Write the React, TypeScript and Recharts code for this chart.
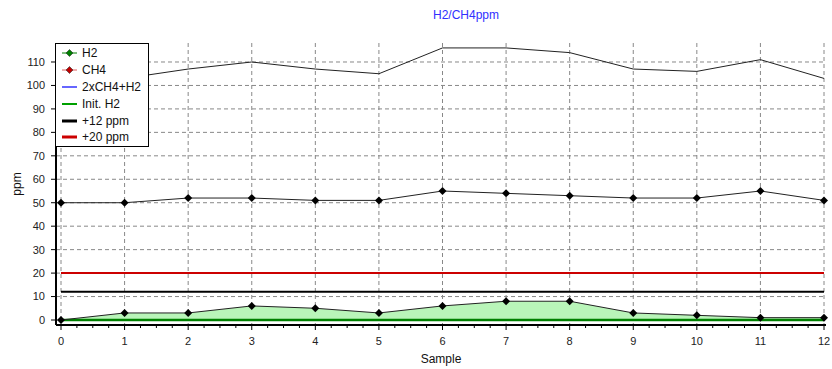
import React from "react";
import {
  Area,
  CartesianGrid,
  ComposedChart,
  Label,
  Legend,
  Line,
  XAxis,
  YAxis,
} from "recharts";

// values
const samples = [0, 1, 2, 3, 4, 5, 6, 7, 8, 9, 10, 11, 12];
const h2 = [0, 3, 3, 6, 5, 3, 6, 8, 8, 3, 2, 1, 1];
const ch4 = [50, 50, 52, 52, 51, 51, 55, 54, 53, 52, 52, 55, 51];
const sumLine = [100, 103, 107, 110, 107, 105, 116, 116, 114, 107, 106, 111, 103];
const initH2 = [0, 0, 0, 0, 0, 0, 0, 0, 0, 0, 0, 0, 0];
const plus12 = [12, 12, 12, 12, 12, 12, 12, 12, 12, 12, 12, 12, 12];
const plus20 = [20, 20, 20, 20, 20, 20, 20, 20, 20, 20, 20, 20, 20];

const yTicks = [0, 10, 20, 30, 40, 50, 60, 70, 80, 90, 100, 110];
const legendNames = ["H2", "CH4", "2xCH4+H2", "Init. H2", "+12 ppm", "+20 ppm"];

const FONT = "'Liberation Sans', Arial, sans-serif";

// legend swatches (line colour, width, marker fill)
const SWATCH: Record<string, { stroke: string; width: number; marker?: string }> = {
  H2: { stroke: "#008000", width: 1, marker: "#008000" },
  CH4: { stroke: "#e06060", width: 1, marker: "#c00000" },
  "2xCH4+H2": { stroke: "#6666ff", width: 2 },
  "Init. H2": { stroke: "#00a000", width: 2 },
  "+12 ppm": { stroke: "#000000", width: 3 },
  "+20 ppm": { stroke: "#cc0000", width: 3 },
};

const data = samples.map((s, i) => ({
  sample: s,
  h2: h2[i],
  ch4: ch4[i],
  sum: sumLine[i],
  init: initH2[i],
  p12: plus12[i],
  p20: plus20[i],
}));

const xTicks = samples.flatMap((t) =>
  t < 12 ? [t, t + 0.25, t + 0.5, t + 0.75] : [t]
);

const Diamond = (props: any) => {
  const { cx, cy, index } = props;
  if (cx == null || cy == null) return <g key={index} />;
  const r = 4;
  return (
    <polygon
      key={index}
      points={`${cx},${cy - r} ${cx + r},${cy} ${cx},${cy + r} ${cx - r},${cy}`}
      fill="#000"
    />
  );
};

const XTick = (props: any) => {
  const { x, y, payload } = props;
  const major = Number.isInteger(payload.value);
  return (
    <g>
      <line x1={x} x2={x} y1={y} y2={y + (major ? 5 : 3)} stroke="#000" />
      {major && (
        <text
          x={x}
          y={y + 20}
          textAnchor="middle"
          fontSize={11}
          fontFamily={FONT}
          fill="#222"
        >
          {payload.value}
        </text>
      )}
    </g>
  );
};

const LegendBox = () => (
  <div
    style={{
      width: 92,
      height: 101,
      border: "1px solid #000",
      background: "#fff",
      fontFamily: FONT,
      fontSize: 12,
      color: "#111",
      paddingTop: 1,
      boxSizing: "content-box",
    }}
  >
    {legendNames.map((name) => {
      const s = SWATCH[name];
      return (
        <div
          key={name}
          style={{ height: 16.8, display: "flex", alignItems: "center" }}
        >
          <svg width={26} height={16} style={{ flex: "none" }}>
            <line
              x1={6}
              x2={21}
              y1={8}
              y2={8}
              stroke={s.stroke}
              strokeWidth={s.width}
            />
            {s.marker && (
              <polygon
                points="13.5,4.5 17,8 13.5,11.5 10,8"
                fill={s.marker}
                stroke="#333"
                strokeWidth={0.6}
              />
            )}
          </svg>
          <span style={{ whiteSpace: "nowrap" }}>{name}</span>
        </div>
      );
    })}
  </div>
);

const App: React.FC = () => {
  return (
    <div
      style={{
        position: "absolute",
        left: 0,
        top: 0,
        width: 832,
        height: 369,
        background: "#fff",
      }}
    >
      <div
        style={{
          position: "absolute",
          left: 0,
          width: 932,
          top: 8,
          textAlign: "center",
          fontFamily: FONT,
          fontSize: 12,
          color: "#3030ff",
          zIndex: 2,
        }}
      >
        H2/CH4ppm
      </div>
      <ComposedChart
        width={832}
        height={369}
        data={data}
        margin={{ top: 43, right: 6, bottom: 0, left: 0 }}
      >
        <CartesianGrid
          stroke="#888"
          strokeDasharray="4 3"
          verticalValues={samples}
          horizontalValues={yTicks}
        />
        <XAxis
          dataKey="sample"
          type="number"
          domain={[0, 12]}
          ticks={xTicks}
          interval={0}
          padding={{ left: 5, right: 2 }}
          height={44}
          tickLine={false}
          tickSize={0}
          tickMargin={0}
          tick={<XTick />}
          axisLine={{ stroke: "#000", strokeWidth: 2 }}
        >
          <Label
            value="Sample"
            position="insideBottom"
            offset={6}
            style={{ fontFamily: FONT, fontSize: 12, fill: "#111" }}
          />
        </XAxis>
        <XAxis
          xAxisId="top"
          orientation="top"
          type="number"
          domain={[0, 12]}
          height={0}
          tick={false}
          tickLine={false}
          axisLine={{ stroke: "#333" }}
        />
        <YAxis
          type="number"
          domain={[-2.13, 118.1]}
          allowDataOverflow
          ticks={yTicks}
          interval={0}
          width={56}
          tickSize={5}
          tickMargin={6}
          tickLine={{ stroke: "#000" }}
          axisLine={{ stroke: "#000", strokeWidth: 2 }}
          tick={{ fontSize: 11, fontFamily: FONT, fill: "#222" }}
        >
          <Label
            content={(p: any) => {
              const vb = p.viewBox;
              const cx = 17;
              const cy = vb.y + vb.height / 2;
              return (
                <text
                  x={cx}
                  y={cy}
                  transform={`rotate(-90 ${cx} ${cy})`}
                  textAnchor="middle"
                  dominantBaseline="central"
                  fontFamily={FONT}
                  fontSize={12}
                  fill="#111"
                >
                  ppm
                </text>
              );
            }}
          />
        </YAxis>
        <YAxis
          yAxisId="right"
          orientation="right"
          width={0}
          tick={false}
          tickLine={false}
          axisLine={{ stroke: "#444" }}
        />
        <Legend
          layout="vertical"
          align="center"
          verticalAlign="middle"
          content={<LegendBox />}
          wrapperStyle={{ left: 55, top: 43, width: 94, height: 103, zIndex: 3 }}
        />
        <Area
          dataKey="h2"
          type="linear"
          fill="#b9f5b9"
          fillOpacity={1}
          stroke="none"
          baseValue={0}
          legendType="none"
          isAnimationActive={false}
        />
        <Line
          dataKey="init"
          name="Init. H2"
          stroke="#008000"
          strokeWidth={2.5}
          dot={false}
          isAnimationActive={false}
        />
        <Line
          dataKey="p12"
          name="+12 ppm"
          stroke="#000"
          strokeWidth={2}
          dot={false}
          isAnimationActive={false}
        />
        <Line
          dataKey="p20"
          name="+20 ppm"
          stroke="#cc0000"
          strokeWidth={2}
          dot={false}
          isAnimationActive={false}
        />
        <Line
          dataKey="sum"
          name="2xCH4+H2"
          stroke="#222"
          strokeWidth={1}
          dot={false}
          isAnimationActive={false}
        />
        <Line
          dataKey="ch4"
          name="CH4"
          stroke="#222"
          strokeWidth={1}
          dot={<Diamond />}
          isAnimationActive={false}
        />
        <Line
          dataKey="h2"
          name="H2"
          stroke="#222"
          strokeWidth={1}
          dot={<Diamond />}
          isAnimationActive={false}
        />
      </ComposedChart>
    </div>
  );
};

export default App;
